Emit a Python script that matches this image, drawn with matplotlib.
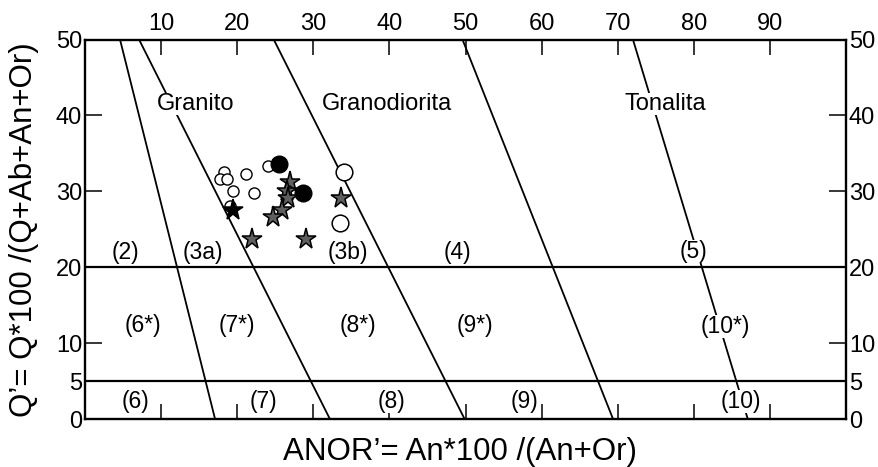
import matplotlib
matplotlib.use("Agg")
import matplotlib.pyplot as plt

plt.rcParams['font.family'] = ['Liberation Sans', 'DejaVu Sans']

# limites de campo (x en Q'=50, x en Q'=0)
lineas_top = [4.6, 7.1, 24.8, 49.6, 72.0]
lineas_bot = [17.1, 32.2, 49.9, 69.4, 87.1]
lineas_h = [20, 5]

# muestras
circ_peq_x = [18.2, 17.8, 18.7, 21.2, 19.4, 22.2, 19.0, 24.1]
circ_peq_y = [32.5, 31.6, 31.6, 32.3, 30.1, 29.8, 28.1, 33.4]
circ_neg_x = [25.5, 28.7]
circ_neg_y = [33.6, 29.8]
circ_gr_x = [34.0, 33.5]
circ_gr_y = [32.5, 25.9]
estr_x = [26.9, 26.6, 26.7, 25.9, 24.7, 21.9, 29.0, 33.6]
estr_y = [31.3, 30.1, 29.1, 27.5, 26.7, 23.7, 23.7, 29.1]
estr_neg_x = [19.4]
estr_neg_y = [27.5]

# rotulos
rocas = ["Granito", "Granodiorita", "Tonalita"]
rocas_x = [14.6, 39.7, 76.3]
rocas_y = [41.5, 41.5, 41.5]
campos = ["(2)", "(3a)", "(3b)", "(4)", "(5)",
          "(6*)", "(7*)", "(8*)", "(9*)", "(10*)",
          "(6)", "(7)", "(8)", "(9)", "(10)"]
campos_x = [5.3, 15.5, 34.6, 48.9, 80.0,
            7.6, 20.0, 35.8, 51.3, 84.2,
            6.7, 23.5, 40.3, 57.8, 86.2]
campos_y = [22.0, 22.0, 22.0, 22.0, 22.1,
            12.3, 12.3, 12.3, 12.3, 12.2,
            2.4, 2.4, 2.4, 2.4, 2.4]

fig = plt.figure(figsize=(8.79, 4.67), dpi=100)
ax = fig.add_axes([0.0967, 0.1021, 0.8658, 0.8133])

for xt, xb in zip(lineas_top, lineas_bot):
    ax.plot([xt, xb], [50, 0], color='black', lw=1.3, zorder=1)
for yh in lineas_h:
    ax.axhline(yh, color='black', lw=1.6, zorder=2.5)

for t, x, y in zip(rocas, rocas_x, rocas_y):
    ax.text(x, y, t, fontsize=17, ha='center', va='center', zorder=2,
            bbox=dict(facecolor='white', edgecolor='none', pad=0))
for t, x, y in zip(campos, campos_x, campos_y):
    ax.text(x, y, t, fontsize=16.5, ha='center', va='center', zorder=2,
            bbox=dict(facecolor='white', edgecolor='none', pad=0))

ax.plot(circ_peq_x, circ_peq_y, 'o', ms=8, mfc='white', mec='black', mew=1.0, zorder=3)
ax.plot(circ_gr_x, circ_gr_y, 'o', ms=12, mfc='white', mec='black', mew=1.1, zorder=3)
ax.plot(circ_neg_x, circ_neg_y, 'o', ms=12, mfc='black', mec='black', zorder=4)
ax.plot(estr_x, estr_y, '*', ms=15.5, mfc='#5f5f5f', mec='black', mew=1.1, zorder=5)
ax.plot(estr_neg_x, estr_neg_y, '*', ms=15.5, mfc='black', mec='black', mew=1.1, zorder=5)

ax.set_xlim(0, 100)
ax.set_ylim(0, 50)
ax.set_xticks(range(10, 100, 10))
ax.set_yticks([0, 5, 10, 20, 30, 40, 50])
ax.tick_params(axis='x', direction='in', length=11, width=1.1, top=True, bottom=True,
               labeltop=True, labelbottom=False, labelsize=17, pad=3)
ax.tick_params(axis='y', direction='in', length=12, width=1.1, left=True, right=True,
               labelleft=True, labelright=True, labelsize=17, pad=2)
for s in ax.spines.values():
    s.set_linewidth(1.7)

fig.text(0.523, 0.032, "ANOR\u2019= An*100 /(An+Or)", fontsize=22.5, ha='center', va='center')
fig.text(0.027, 0.508, "Q\u2019= Q*100 /(Q+Ab+An+Or)", fontsize=22.5, ha='center', va='center',
         rotation=90)

fig.savefig("out.png", dpi=100)
